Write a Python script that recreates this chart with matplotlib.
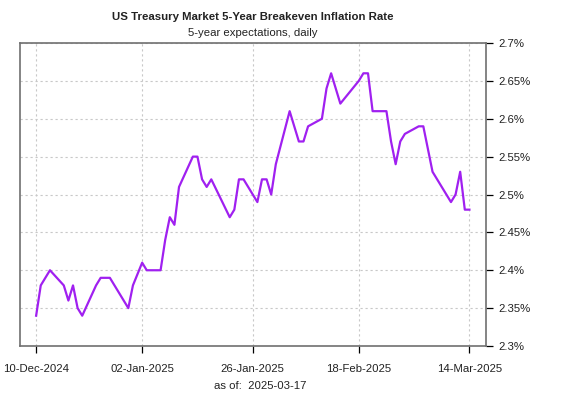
import matplotlib
matplotlib.use('Agg')
import matplotlib.pyplot as plt
import matplotlib.dates as mdates
import numpy as np
import pandas as pd

plt.rcParams['font.family'] = ['Liberation Sans', 'DejaVu Sans']

# 5-year breakeven inflation rate, daily
dates = ['2024-12-10', '2024-12-11', '2024-12-12', '2024-12-13', '2024-12-16',
         '2024-12-17', '2024-12-18', '2024-12-19', '2024-12-20', '2024-12-23',
         '2024-12-24', '2024-12-26', '2024-12-27', '2024-12-30', '2024-12-31',
         '2025-01-02', '2025-01-03', '2025-01-06', '2025-01-07', '2025-01-08',
         '2025-01-09', '2025-01-10', '2025-01-13', '2025-01-14', '2025-01-15',
         '2025-01-16', '2025-01-17', '2025-01-21', '2025-01-22', '2025-01-23',
         '2025-01-24', '2025-01-27', '2025-01-28', '2025-01-29', '2025-01-30',
         '2025-01-31', '2025-02-03', '2025-02-04', '2025-02-05', '2025-02-06',
         '2025-02-07', '2025-02-10', '2025-02-11', '2025-02-12', '2025-02-13',
         '2025-02-14', '2025-02-18', '2025-02-19', '2025-02-20', '2025-02-21',
         '2025-02-24', '2025-02-25', '2025-02-26', '2025-02-27', '2025-02-28',
         '2025-03-03', '2025-03-04', '2025-03-05', '2025-03-06', '2025-03-07',
         '2025-03-10', '2025-03-11', '2025-03-12', '2025-03-13', '2025-03-14']
rates = [2.34, 2.38, 2.39, 2.40, 2.38,
         2.36, 2.38, 2.35, 2.34, 2.38,
         2.39, 2.39, 2.38, 2.35, 2.38,
         2.41, 2.40, 2.40, 2.44, 2.47,
         2.46, 2.51, 2.55, 2.55, 2.52,
         2.51, 2.52, 2.47, 2.48, 2.52,
         2.52, 2.49, 2.52, 2.52, 2.50,
         2.54, 2.61, 2.59, 2.57, 2.57,
         2.59, 2.60, 2.64, 2.66, 2.64,
         2.62, 2.65, 2.66, 2.66, 2.61,
         2.61, 2.57, 2.54, 2.57, 2.58,
         2.59, 2.59, 2.56, 2.53, 2.52,
         2.49, 2.50, 2.53, 2.48, 2.48]

tick_dates = ['2024-12-10', '2025-01-02', '2025-01-26', '2025-02-18', '2025-03-14']
y_ticks = [2.3, 2.35, 2.4, 2.45, 2.5, 2.55, 2.6, 2.65, 2.7]
as_of = '2025-03-17'

x = pd.to_datetime(dates)
xt = pd.to_datetime(tick_dates)

W, H = 561, 399
fig = plt.figure(figsize=(W / 100, H / 100), dpi=100)
ax = fig.add_axes([20 / W, (H - 346) / H, (486 - 20) / W, (346 - 43) / H])

grid_col = '#c8c8c8'
for d in xt:
    ax.axvline(d, color=grid_col, lw=0.8, ls=(0, (2, 2.5)), zorder=1)
for v in y_ticks:
    ax.axhline(v, color=grid_col, lw=0.8, ls=(0, (2, 2.5)), zorder=1)

ax.plot(x, rates, color='#a020f0', lw=1.6, zorder=3)

ax.set_xlim(x[0] - pd.Timedelta(days=3.5), x[-1] + pd.Timedelta(days=3.6))
ax.set_ylim(2.3, 2.7)

ax.set_xticks(xt)
ax.xaxis.set_major_formatter(mdates.DateFormatter('%d-%b-%Y'))
ax.set_yticks(y_ticks)
ax.set_yticklabels([f'{v:g}%' for v in y_ticks])
ax.yaxis.tick_right()
ax.tick_params(axis='both', length=5, width=0.9, color='black', labelsize=8.2,
               labelcolor='#222222', direction='out')
ax.tick_params(axis='y', pad=4)
ax.tick_params(axis='x', pad=8)

for s in ax.spines.values():
    s.set_color('#707070')
    s.set_linewidth(1.2)

fig.text(253 / W, 1 - 17 / H, 'US Treasury Market 5-Year Breakeven Inflation Rate',
         ha='center', va='center', fontsize=8.2, fontweight='bold', color='#222222')
fig.text(253 / W, 1 - 33 / H, '5-year expectations, daily',
         ha='center', va='center', fontsize=8.2, color='#222222')
fig.text(260 / W, 1 - 386 / H, f'as of:  {as_of}',
         ha='center', va='center', fontsize=8.2, color='#222222')

plt.savefig('out.png', dpi=100)
plt.close()
